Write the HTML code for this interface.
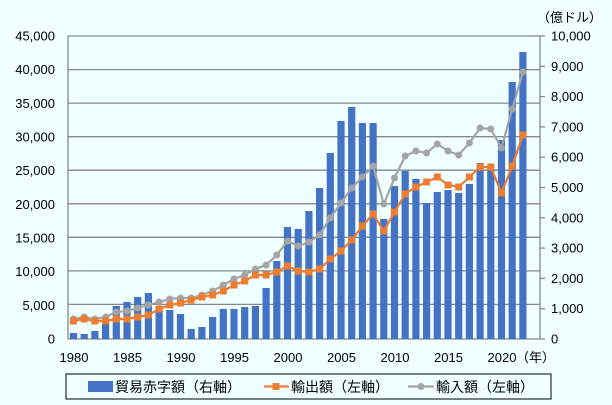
<!DOCTYPE html>
<html><head><meta charset="utf-8"><style>
html,body{margin:0;padding:0;background:#f0ffff;}
svg{display:block;font-family:"Liberation Sans","Noto Sans CJK JP",sans-serif;}
</style></head><body>
<svg width="612" height="405" viewBox="0 0 612 405" xmlns="http://www.w3.org/2000/svg">
<rect width="612" height="405" fill="#f0ffff"/>
<g stroke="#888" stroke-width="1.3">
<line x1="68" y1="36" x2="540" y2="36"/>
<line x1="68" y1="69.6" x2="540" y2="69.6"/>
<line x1="68" y1="103.1" x2="540" y2="103.1"/>
<line x1="68" y1="136.7" x2="540" y2="136.7"/>
<line x1="68" y1="170.2" x2="540" y2="170.2"/>
<line x1="68" y1="203.8" x2="540" y2="203.8"/>
<line x1="68" y1="237.3" x2="540" y2="237.3"/>
<line x1="68" y1="270.9" x2="540" y2="270.9"/>
<line x1="68" y1="304.4" x2="540" y2="304.4"/>
<line x1="68" y1="339" x2="540" y2="339"/>
<line x1="68" y1="36" x2="68" y2="339"/>
<line x1="540" y1="36" x2="540" y2="339"/>
</g>
<g stroke="#888" stroke-width="1.3" id="rt"></g>
<g id="bars" fill="#4472c4"></g>
<polyline id="imp" fill="none" stroke="#a5a5a5" stroke-width="2.2"/>
<g id="impm" fill="#a5a5a5"></g>
<polyline id="exp" fill="none" stroke="#ed7d31" stroke-width="2.2"/>
<g id="expm" fill="#ed7d31"></g>
<g font-size="13" fill="#000" text-anchor="end" id="ll"></g>
<g font-size="13" fill="#000" text-anchor="start" id="rl"></g>
<g font-size="13" fill="#000" text-anchor="middle">
<text x="74" y="362">1980</text><text x="127.5" y="362">1985</text><text x="181" y="362">1990</text><text x="234.5" y="362">1995</text><text x="288" y="362">2000</text><text x="341.5" y="362">2005</text><text x="395" y="362">2010</text><text x="448.5" y="362">2015</text><text x="502" y="362">2020</text>
</g>
<text x="516" y="362" font-size="13">（年）</text>
<text x="537" y="22" font-size="13">（億ドル）</text>
<rect x="66" y="374" width="485" height="25" fill="none" stroke="#000" stroke-width="1"/>
<rect x="88" y="381" width="25" height="11" fill="#4472c4"/>
<text x="115" y="392" font-size="14">貿易赤字額（右軸）</text>
<line x1="264" y1="386.5" x2="289" y2="386.5" stroke="#ed7d31" stroke-width="2.2"/>
<rect x="272.5" y="383" width="7" height="7" fill="#ed7d31"/>
<text x="291" y="392" font-size="14">輸出額（左軸）</text>
<line x1="408" y1="386.5" x2="434" y2="386.5" stroke="#a5a5a5" stroke-width="2.2"/>
<circle cx="421" cy="386.5" r="3.5" fill="#a5a5a5"/>
<text x="436" y="392" font-size="14">輸入額（左軸）</text>
</svg>
<script>
var ns="http://www.w3.org/2000/svg";
function el(t,a,p){var e=document.createElementNS(ns,t);for(var k in a)e.setAttribute(k,a[k]);document.getElementById(p).appendChild(e);return e;}
var bars=[333,334,331,323,306,302,297,293,310,310,314,329,327,317,309,309,307,306,288,261,227,229,211,188,153,121,107,123,123,219,186,171,179,203,192,190,193,184,163,166,140,82,52];
var imp=[319,317,319,317,312,311,308,305,302,299,298,298,295,291,285,279,275,269,265,255,241,246,242,235,218,203,188,177,166,204,178,156,151,153,144,151,155,143,128,129,148,109,72];
var ex=[321,319,321,321,319,319,317,315,309,305,303,300,297,295,291,285,281,275,275,272,266,271,272,269,259,251,240,226,214,231,212,194,187,182,177,185,187,177,167,167,193,166,135];
function X(i){return 73.5+i*10.7;}
var ip=[],ep=[];
for(var i=0;i<43;i++){var x=X(i);
el("rect",{x:x-3.6,y:bars[i],width:7.2,height:339-bars[i]},"bars");
ip.push(x+","+imp[i]);ep.push(x+","+ex[i]);
el("circle",{cx:x,cy:imp[i],r:3.5},"impm");
el("rect",{x:x-3.5,y:ex[i]-3.5,width:7,height:7},"expm");}
document.getElementById("imp").setAttribute("points",ip.join(" "));
document.getElementById("exp").setAttribute("points",ep.join(" "));
for(var k=0;k<=9;k++){var y=339-k*(303/9);var t=el("text",{x:55,y:y+4.5},"ll");t.textContent=(k*5000).toLocaleString("en-US");}
for(var k=0;k<=10;k++){var y=339-k*30.3;el("line",{x1:540,y1:y,x2:545,y2:y},"rt");var t=el("text",{x:551,y:y+4.5},"rl");t.textContent=(k*1000).toLocaleString("en-US");}
</script>
</body></html>
